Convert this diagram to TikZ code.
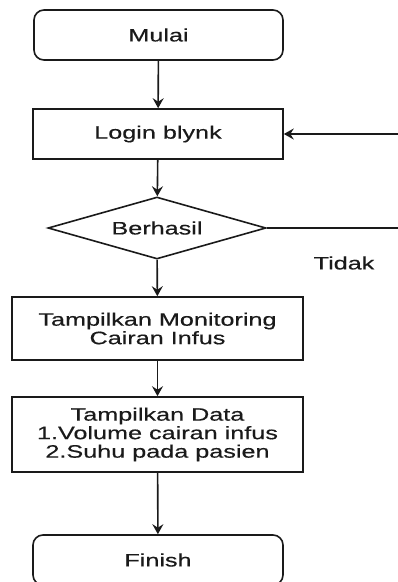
\documentclass[tikz,border=0pt]{standalone}
\usepackage{fontspec}
\setmainfont{Liberation Sans}[FakeStretch=1.4,FakeBold=0.4]
\usetikzlibrary{shapes.geometric,arrows.meta}
\definecolor{ln}{HTML}{1A1A1A}
\definecolor{tx}{HTML}{1A1A1A}
\begin{document}
\begin{tikzpicture}[x=1pt,y=-1pt,
  base/.style={draw=ln,line width=1.6pt,fill=white,text=tx,align=center,
    font=\fontsize{18}{18.5}\selectfont,inner sep=0pt},
  term/.style={base,rounded corners=10pt,minimum width=249pt,minimum height=50pt},
  proc/.style={base,minimum height=50pt},
  dec/.style={base,diamond,aspect=3.5,minimum width=218pt,minimum height=62pt},
  conn/.style={draw=ln,line width=1.6pt},
  arr/.style={conn,-{Stealth[length=10pt,width=11pt,inset=3.5pt]}}]
\useasboundingbox (0,0) rectangle (398,582);
\clip (0,0) rectangle (398,582);
\node[term] (mulai) at (158.5,35) {Mulai};
\node[proc,minimum width=250pt] (login) at (158,134) {Login blynk};
\node[dec] (berhasil) at (157,228) {Berhasil};
\node[proc,minimum width=291pt,minimum height=63pt] (monitor) at (157.5,328.5) {Tampilkan Monitoring\\Cairan Infus};
\node[proc,minimum width=291pt,minimum height=75pt] (data) at (157.5,434.5) {Tampilkan Data\\1.Volume cairan infus\\2.Suhu pada pasien};
\node[term,minimum width=250pt] (finish) at (158,560) {Finish};
\node[text=tx,font=\fontsize{18}{18.5}\selectfont,inner sep=0pt] (tidak) at (344,263) {Tidak};
\coordinate (rtop) at (402,134);
\coordinate (rbot) at (402,228);
\draw[arr] (mulai) -- (login);
\draw[arr] (login) -- (berhasil);
\draw[arr] (berhasil) -- (monitor);
\draw[arr] (monitor) -- (data);
\draw[arr] (data) -- (finish);
\draw[conn] (berhasil.east) -- (rbot);
\draw[arr] (rtop) -- (login.east);
\end{tikzpicture}
\end{document}
